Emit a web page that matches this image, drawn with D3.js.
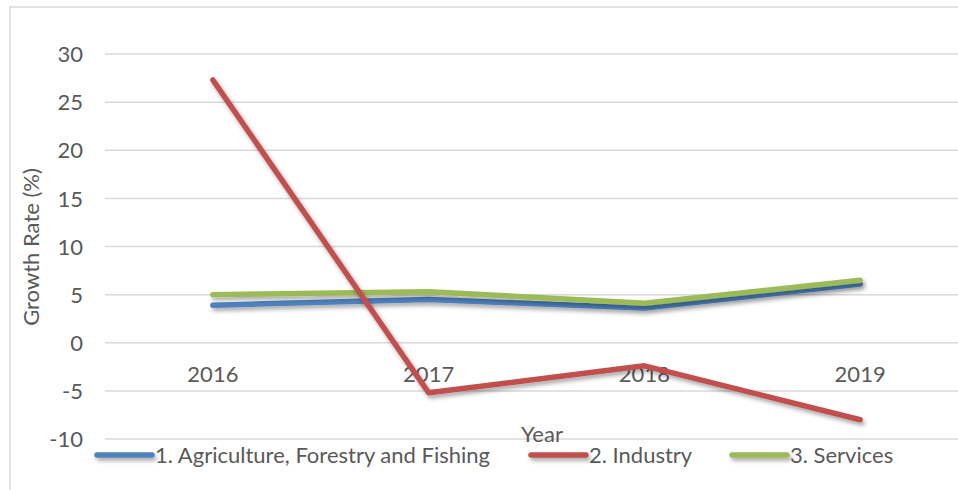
<!DOCTYPE html>
<html><head><meta charset="utf-8">
<script src="https://d3js.org/d3.v7.min.js"></script>
<style>body{margin:0;background:#fff;}svg{display:block;font-family:Lato,"Open Sans",sans-serif;}</style>
</head><body><svg id="c" width="958" height="490"></svg>
<script>
const years = ["2016","2017","2018","2019"];
const seriesNames = ["1. Agriculture, Forestry and Fishing","2. Industry","3. Services"];
const agriculture = [3.9, 4.5, 3.6, 6.1];
const industry = [27.3, -5.2, -2.4, -8.0];
const services = [5.0, 5.3, 4.1, 6.5];
const yTicks = [30,25,20,15,10,5,0,-5,-10];
const colors = ["#4F81BD","#C0504D","#9BBB59"];

const svg = d3.select("#c");
const defs = svg.append("defs");
const f = defs.append("filter").attr("id","sh").attr("filterUnits","userSpaceOnUse")
  .attr("x",0).attr("y",0).attr("width",958).attr("height",490);
f.append("feDropShadow").attr("dx",2).attr("dy",3).attr("stdDeviation",2).attr("flood-color","#000").attr("flood-opacity",0.35);

// chart border
svg.append("rect").attr("x",10).attr("y",7).attr("width",1000).attr("height",600)
  .attr("fill","none").attr("stroke","#D9D9D9").attr("stroke-width",1.5);

const x = d3.scaleBand().domain(years).range([105, 968]);
const y = d3.scaleLinear().domain([-10,30]).range([439, 54]);

// gridlines
svg.append("g").selectAll("line").data(yTicks).join("line")
  .attr("x1",105).attr("x2",958).attr("y1",d=>y(d)).attr("y2",d=>y(d))
  .attr("stroke","#D9D9D9").attr("stroke-width",1.5);

const FS = "22px";
// y axis
const yAxis = d3.axisLeft(y).tickValues(yTicks).tickSize(0).tickPadding(0).tickFormat(d=>String(d));
const ya = svg.append("g").attr("transform","translate(83,0)").call(yAxis);
ya.select(".domain").remove();
ya.selectAll("text").attr("fill","#595959").style("font-size",FS).style("font-family","Lato").attr("dy","0.35em");

// x axis labels
const xAxis = d3.axisBottom(x).tickSize(0).tickPadding(0);
const xa = svg.append("g").attr("transform","translate(0,366)").call(xAxis);
xa.select(".domain").remove();
xa.selectAll("text").attr("fill","#595959").style("font-size",FS).style("font-family","Lato");

// axis titles
svg.append("text").attr("transform","translate(39,247) rotate(-90)").attr("text-anchor","middle")
  .attr("fill","#595959").style("font-size",FS).text("Growth Rate (%)");
svg.append("text").attr("x",542).attr("y",442).attr("text-anchor","middle")
  .attr("fill","#595959").style("font-size",FS).text("Year");

// lines
const data = [agriculture, services, industry];
const cols = [colors[0], colors[2], colors[1]];
const line = d3.line().x((d,i)=>x(years[i])+x.bandwidth()/2).y(d=>y(d));
svg.append("g").selectAll("path").data(data).join("path")
  .attr("d",line).attr("fill","none").attr("stroke",(d,i)=>cols[i])
  .attr("stroke-width",5.5).attr("stroke-linecap","round").attr("stroke-linejoin","round")
  .attr("filter","url(#sh)");

// legend
const legendX = [97, 531, 732];
const lg = svg.append("g");
seriesNames.forEach((n,i)=>{
  lg.append("line").attr("x1",legendX[i]).attr("x2",legendX[i]+55).attr("y1",455).attr("y2",455)
    .attr("stroke",colors[i]).attr("stroke-width",5.5).attr("stroke-linecap","round").attr("filter","url(#sh)");
  lg.append("text").attr("x",legendX[i]+58).attr("y",455).attr("dy","0.35em")
    .attr("fill","#595959").style("font-size",FS).text(n);
});
</script></body></html>
